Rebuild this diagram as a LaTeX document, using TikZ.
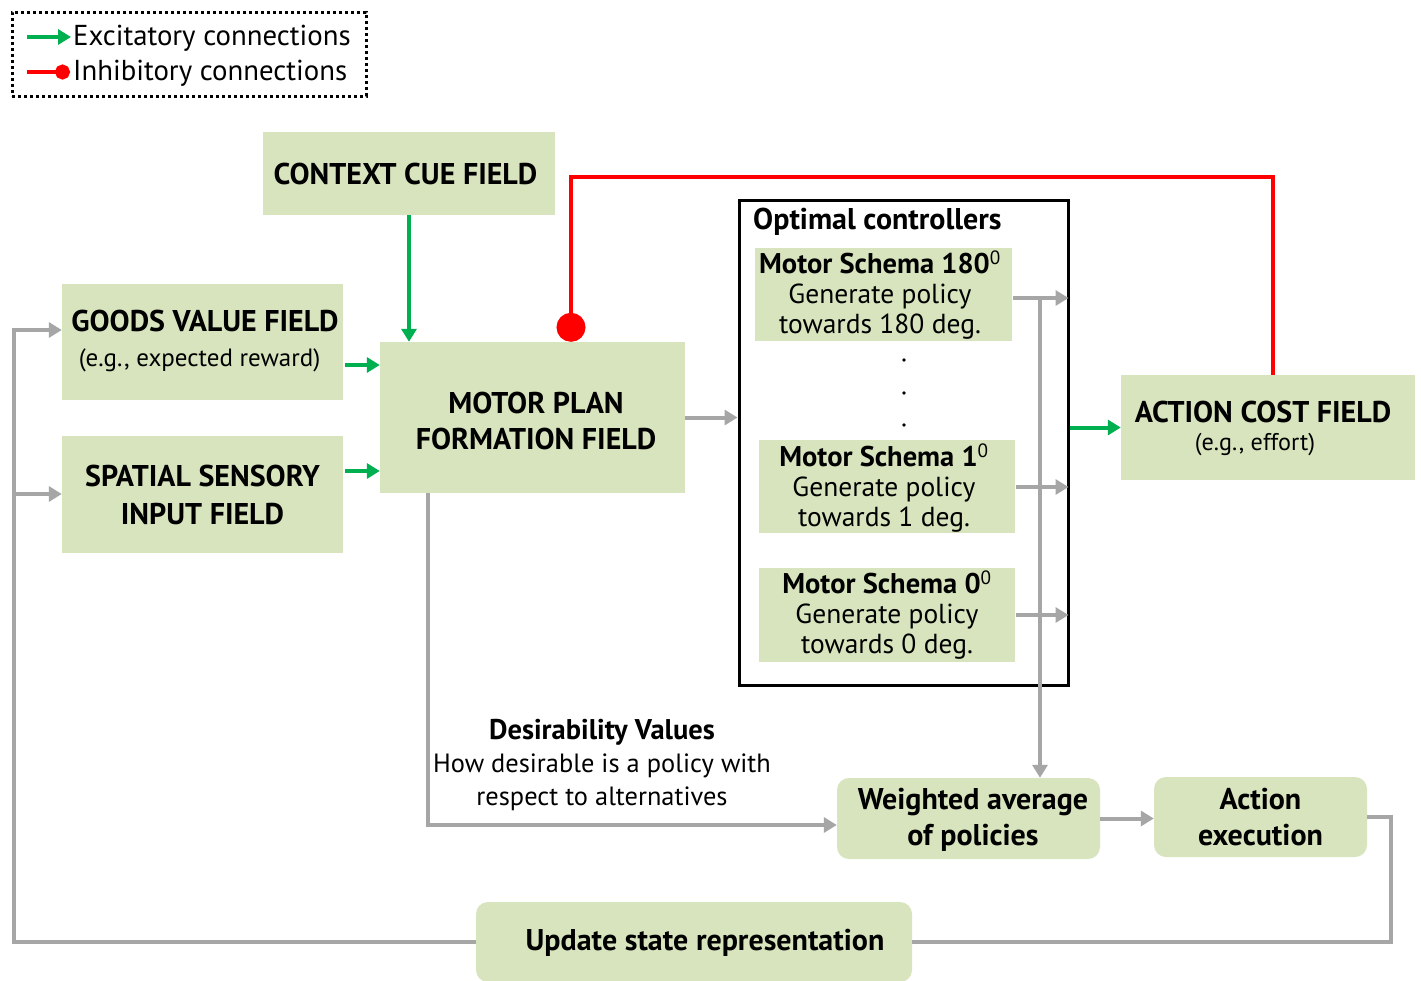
\documentclass[tikz,border=0pt]{standalone}
\usepackage{fontspec}
\setmainfont{PT Sans}
\usetikzlibrary{arrows.meta,calc}
\definecolor{boxgreen}{HTML}{D7E4BD}
\definecolor{flowgray}{HTML}{A6A6A6}
\definecolor{excgreen}{HTML}{00B050}
\definecolor{inhred}{HTML}{FF0000}
\tikzset{
  box/.style={fill=boxgreen, inner sep=0pt, align=center, text=black},
  rbox/.style={box, rounded corners=12pt},
  flow/.style={draw=flowgray, line width=4pt, -{Triangle[length=13pt,width=15pt]}},
  flowline/.style={draw=flowgray, line width=4pt},
  exc/.style={draw=excgreen, line width=4pt, -{Triangle[length=13pt,width=15pt]}},
  inh/.style={draw=inhred, line width=4pt, -{Circle[length=29pt]}},
  big/.style={font=\bfseries\fontsize{30}{36}\selectfont},
  med/.style={font=\fontsize{27.5}{30}\selectfont},
}
\newcommand{\schematitle}[1]{{\bfseries\fontsize{28.5}{30}\selectfont #1}}
\begin{document}
\begin{tikzpicture}[x=1pt,y=-1pt]
\useasboundingbox (0,0) rectangle (1421,980);
\fill[white] (0,0) rectangle (1421,980);

% legend
\node[draw=black, line width=3pt, dash pattern=on 3pt off 3pt, minimum width=354pt, minimum height=84pt, inner sep=0pt] (legend) at (189,54) {};
\coordinate (la1) at (27,37);
\coordinate (la2) at (71,37);
\coordinate (lb1) at (27,72);
\coordinate (lb2) at (70,72);
\draw[exc] (la1) -- (la2);
\draw[draw=inhred, line width=4pt, -{Circle[length=15pt]}] (lb1) -- (lb2);
\node[anchor=west, inner sep=0pt, font=\fontsize{28.8}{30}\selectfont] (ltxt1) at (73,38) {Excitatory connections};
\node[anchor=west, inner sep=0pt, font=\fontsize{28.8}{30}\selectfont] (ltxt2) at (73,73) {Inhibitory connections};

% boxes
\node[box, minimum width=292pt, minimum height=83pt] (ctx) at (409,173.5) {};
\node[big] at (405.5,174) {CONTEXT CUE FIELD};
\node[box, minimum width=281pt, minimum height=116pt] (gv) at (202.5,342) {};
\node[big] at (205,321) {GOODS VALUE FIELD};
\node[font=\fontsize{25}{28}\selectfont] at (199.5,360) {(e.g., expected reward)};
\node[box, minimum width=281pt, minimum height=117pt, big, font=\bfseries\fontsize{30}{38}\selectfont] (ss) at (202.5,494.5) {SPATIAL SENSORY\\INPUT FIELD};
\node[box, minimum width=305pt, minimum height=151pt] (mp) at (532.5,417.5) {};
\node[big, align=center] at (536,421) {MOTOR PLAN\\FORMATION FIELD};

\node[draw=black, line width=3pt, minimum width=329pt, minimum height=485pt, inner sep=0pt] (oc) at (903.5,442.5) {};
\node[anchor=west, inner sep=0pt, font=\bfseries\fontsize{30}{30}\selectfont] (octitle) at (753,222) {Optimal controllers};

\node[box, minimum width=257pt, minimum height=93pt] (s180) at (883.5,294.5) {};
\node[med, align=center] at (880,295.5) {\schematitle{Motor Schema 180}\textsuperscript{0}\\Generate policy\\towards 180 deg.};
\node[box, minimum width=256pt, minimum height=93pt] (s1) at (887,486.5) {};
\node[med, align=center] at (884,488) {\schematitle{Motor Schema 1}\textsuperscript{0}\\Generate policy\\towards 1 deg.};
\node[box, minimum width=256pt, minimum height=94pt] (s0) at (887,615) {};
\node[med, align=center] at (887,615) {\schematitle{Motor Schema 0}\textsuperscript{0}\\Generate policy\\towards 0 deg.};
\fill (904,360) circle (1.8pt) (904,393) circle (1.8pt) (904,425) circle (1.8pt);

\node[box, minimum width=294pt, minimum height=105pt] (acf) at (1268,427.5) {};
\node[big] at (1263,412) {ACTION COST FIELD};
\node[font=\fontsize{24.2}{26}\selectfont] at (1255,445) {(e.g., effort)};

\node[rbox, minimum width=263pt, minimum height=81pt] (wa) at (968.5,818.5) {};
\node[big, align=center] at (973,820) {Weighted average\\of policies};
\node[rbox, minimum width=213pt, minimum height=80pt, big] (ae) at (1260.5,817) {Action\\execution};
\node[rbox, minimum width=436pt, minimum height=80pt] (us) at (694,942) {};
\node[big] at (705,943) {Update state representation};

\node[align=center, font=\fontsize{26.4}{33}\selectfont] (des) at (602,765) {{\bfseries\fontsize{28.5}{33}\selectfont Desirability Values}\\How desirable is a policy with\\respect to alternatives};

% connectors
\draw[exc] (ctx.south) -- (ctx.south |- mp.north);
\coordinate (g1) at (345,365);
\coordinate (g2) at (345,471);
\draw[exc] (g1) -- (g1 -| mp.west);
\draw[exc] (g2) -- (g2 -| mp.west);
\coordinate (rtop) at (571,177);
\coordinate (rright) at (1273,177);
\draw[inh] (rright |- acf.north) -- (rright) -- (rtop) -- (rtop |- mp.north);
\draw[exc] (acf.west -| oc.east) -- (acf.west);

\draw[flow] (mp.east) -- (mp.east -| oc.west);
\coordinate (a180) at (1013,298);
\coordinate (a1) at (1016,487);
\coordinate (a0) at (1016,615);
\draw[flow, shorten >=1pt] (a180) -- (a180 -| oc.east);
\draw[flow, shorten >=1pt] (a1) -- (a1 -| oc.east);
\draw[flow, shorten >=1pt] (a0) -- (a0 -| oc.east);
\coordinate (vtop) at (1040,298);
\draw[flow] (vtop) -- (vtop |- wa.north);

\coordinate (dv) at (428,825);
\draw[flow] (dv |- mp.south) -- (dv) -- (dv -| wa.west);
\draw[flow] (wa.east) -- (wa.east -| ae.west);

\coordinate (rr) at (1391,817);
\draw[flowline] (ae.east) -- (rr) |- (us.east);
\coordinate (lp1) at (14,330);
\coordinate (lp2) at (14,494);
\draw[flow] (us.west) -| (lp1) -- (lp1 -| gv.west);
\draw[flow] (lp2) -- (lp2 -| ss.west);
\end{tikzpicture}
\end{document}
